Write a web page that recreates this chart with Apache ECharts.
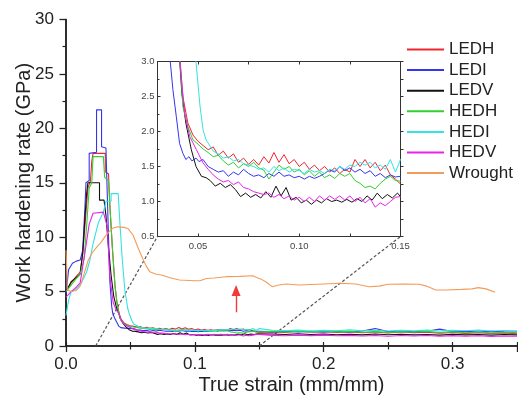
<!DOCTYPE html>
<html>
<head>
<meta charset="utf-8">
<script src="https://cdn.jsdelivr.net/npm/echarts@6/dist/echarts.min.js"></script>
<style>
html,body{margin:0;padding:0;background:#fff;}
#chart{width:518px;height:397px;}
</style>
</head>
<body>
<div id="chart"></div>
<script>
// series names (legend order)
var names = ['LEDH', 'LEDI', 'LEDV', 'HEDH', 'HEDI', 'HEDV', 'Wrought'];
var colors = ['#f0262e', '#3535ee', '#111111', '#2fd12f', '#33e3e3', '#ea22ea', '#f39c5a'];

// [true strain, work hardening rate GPa]
var LEDH = [[0,5.0],[0.004,5.8],[0.008,6.4],[0.011,6.8],[0.013,8.5],[0.015,11.5],[0.017,14.5],[0.019,15.2],[0.02,17.0],[0.021,17.7],[0.0305,17.7],[0.0305,16.0],[0.033,15.8],[0.034,13],[0.036,9],[0.038,5.6],[0.0395,4.0],[0.0412,3.0],
  [0.0425,2.5],[0.045,2.12],[0.0475,1.95],[0.05,1.86],[0.0525,1.8],[0.055,1.74],[0.0575,1.78],[0.06,1.66],[0.0625,1.72],[0.065,1.62],[0.0675,1.68],[0.07,1.56],[0.0725,1.62],[0.075,1.53],[0.0775,1.6],[0.08,1.52],[0.0825,1.64],[0.085,1.55],[0.0875,1.7],[0.09,1.56],[0.0925,1.67],[0.095,1.54],[0.0975,1.6],[0.1,1.5],[0.1025,1.56],[0.105,1.46],[0.1075,1.52],[0.11,1.44],[0.1125,1.5],[0.115,1.42],[0.1175,1.48],[0.12,1.4],[0.1225,1.46],[0.125,1.42],[0.1275,1.6],[0.13,1.5],[0.1325,1.6],[0.135,1.48],[0.1375,1.56],[0.14,1.44],[0.1425,1.52],[0.145,1.38],[0.1475,1.32],[0.15,1.25],
  [0.16,1.3],[0.17,1.25],[0.18,1.35],[0.19,1.28],[0.2,1.32],[0.21,1.25],[0.22,1.3],[0.23,1.22],[0.24,1.28],[0.25,1.2],[0.26,1.3],[0.27,1.22],[0.28,1.26],[0.29,1.18],[0.3,1.24],[0.31,1.16],[0.32,1.22],[0.33,1.15],[0.34,1.2],[0.35,1.12]];

var LEDI = [[0,4.8],[0.002,7.0],[0.005,7.6],[0.008,7.8],[0.011,7.9],[0.013,8.8],[0.0147,12.8],[0.0155,15.0],[0.018,15.2],[0.018,17.7],[0.0237,17.8],[0.0237,21.7],[0.0276,21.7],[0.0276,18.3],[0.031,18.2],[0.0325,12],[0.034,6],[0.0355,3.6],[0.0363,3.0],
  [0.0376,2.6],[0.0393,2.21],[0.0409,1.83],[0.0425,1.69],[0.044,1.6],[0.0455,1.64],[0.047,1.58],[0.049,1.62],[0.0505,1.57],[0.0525,1.6],[0.055,1.5],[0.0575,1.46],[0.06,1.42],[0.0625,1.44],[0.065,1.36],[0.0675,1.42],[0.07,1.38],[0.0725,1.46],[0.075,1.4],[0.0775,1.36],[0.08,1.38],[0.0825,1.34],[0.085,1.4],[0.0875,1.36],[0.09,1.42],[0.0925,1.36],[0.095,1.38],[0.0975,1.34],[0.1,1.36],[0.1025,1.32],[0.105,1.36],[0.1075,1.33],[0.11,1.36],[0.1125,1.4],[0.115,1.45],[0.1175,1.42],[0.12,1.5],[0.1225,1.44],[0.125,1.48],[0.1275,1.42],[0.13,1.46],[0.1325,1.4],[0.135,1.44],[0.1375,1.36],[0.14,1.4],[0.1425,1.34],[0.145,1.38],[0.1475,1.35],[0.15,1.36],
  [0.16,1.3],[0.17,1.36],[0.18,1.28],[0.19,1.34],[0.2,1.3],[0.21,1.36],[0.22,1.3],[0.23,1.38],[0.24,1.6],[0.25,1.32],[0.26,1.38],[0.27,1.3],[0.28,1.36],[0.29,1.55],[0.3,1.32],[0.31,1.36],[0.32,1.28],[0.33,1.34],[0.34,1.3],[0.35,1.28]];

var LEDV = [[0,5.0],[0.004,5.9],[0.008,6.3],[0.011,6.6],[0.013,8.6],[0.0148,12],[0.016,14.0],[0.017,15.0],[0.026,15.0],[0.026,13.4],[0.0295,13.4],[0.031,12],[0.033,9],[0.035,6.5],[0.037,4.6],[0.039,3.6],[0.041,3.0],
  [0.042,2.55],[0.044,2.12],[0.0467,1.74],[0.049,1.5],[0.0517,1.36],[0.054,1.34],[0.056,1.3],[0.0585,1.22],[0.061,1.26],[0.0635,1.2],[0.066,1.24],[0.0685,1.17],[0.071,1.07],[0.0735,1.12],[0.076,1.06],[0.0785,1.1],[0.081,1.05],[0.0835,1.14],[0.086,1.06],[0.0885,1.22],[0.091,1.08],[0.0935,1.2],[0.096,1.02],[0.0985,1.06],[0.101,0.98],[0.1035,1.02],[0.106,0.96],[0.1085,1.02],[0.111,0.98],[0.1135,1.04],[0.116,1.0],[0.1185,1.02],[0.121,0.99],[0.1235,1.03],[0.126,0.99],[0.1285,1.04],[0.131,1.0],[0.1335,1.08],[0.136,1.02],[0.1385,1.12],[0.141,1.04],[0.1435,1.1],[0.146,1.05],[0.1485,1.12],[0.15,1.07],
  [0.16,1.1],[0.17,1.05],[0.18,1.12],[0.19,1.06],[0.2,1.1],[0.21,1.04],[0.22,1.08],[0.23,1.02],[0.24,1.1],[0.25,1.04],[0.26,1.08],[0.27,1.02],[0.28,1.06],[0.29,1.0],[0.3,1.08],[0.31,1.02],[0.32,1.06],[0.33,1.0],[0.34,1.05],[0.35,1.02]];

var HEDH = [[0,5.0],[0.004,5.6],[0.008,6.2],[0.011,6.6],[0.014,8.0],[0.016,11],[0.018,14.5],[0.02,15.0],[0.021,17.4],[0.029,17.4],[0.03,15.5],[0.033,15.2],[0.034,13],[0.036,9],[0.038,5.5],[0.04,3.6],[0.0412,3.0],
  [0.0425,2.36],[0.045,2.07],[0.0475,1.88],[0.05,1.82],[0.0525,1.75],[0.055,1.7],[0.0575,1.64],[0.06,1.66],[0.0625,1.58],[0.065,1.52],[0.0675,1.56],[0.07,1.48],[0.0725,1.54],[0.075,1.5],[0.0775,1.56],[0.08,1.48],[0.0825,1.45],[0.085,1.32],[0.0875,1.42],[0.09,1.52],[0.0925,1.46],[0.095,1.5],[0.0975,1.42],[0.1,1.46],[0.1025,1.38],[0.105,1.44],[0.1075,1.36],[0.11,1.42],[0.1125,1.34],[0.115,1.38],[0.1175,1.33],[0.12,1.4],[0.1225,1.36],[0.125,1.4],[0.1275,1.3],[0.13,1.26],[0.1325,1.2],[0.135,1.22],[0.1375,1.18],[0.14,1.26],[0.1425,1.32],[0.145,1.36],[0.1475,1.3],[0.15,1.29],
  [0.16,1.35],[0.17,1.28],[0.18,1.36],[0.19,1.3],[0.2,1.38],[0.21,1.3],[0.22,1.34],[0.23,1.26],[0.24,1.32],[0.25,1.25],[0.26,1.3],[0.27,1.28],[0.28,1.34],[0.29,1.24],[0.3,1.3],[0.31,1.22],[0.32,1.28],[0.33,1.2],[0.34,1.26],[0.35,1.22]];

var HEDI = [[0,2.8],[0.002,4.2],[0.004,5.0],[0.008,5.2],[0.012,5.8],[0.016,6.8],[0.0186,7.9],[0.021,9.4],[0.025,11.3],[0.029,12.3],[0.031,13.3],[0.035,13.3],[0.035,14.0],[0.0405,14.0],[0.042,11],[0.0435,8.2],[0.0457,5.1],[0.048,3.4],[0.049,3.0],
  [0.051,2.36],[0.0525,2.02],[0.054,1.88],[0.0575,1.72],[0.06,1.68],[0.0625,1.62],[0.065,1.64],[0.0675,1.58],[0.07,1.6],[0.0725,1.54],[0.075,1.52],[0.0775,1.5],[0.08,1.46],[0.0825,1.48],[0.085,1.42],[0.0875,1.5],[0.09,1.44],[0.0925,1.48],[0.095,1.42],[0.0975,1.46],[0.1,1.44],[0.1025,1.4],[0.105,1.46],[0.1075,1.42],[0.11,1.44],[0.1125,1.4],[0.115,1.46],[0.1175,1.44],[0.12,1.5],[0.1225,1.46],[0.125,1.52],[0.1275,1.5],[0.13,1.56],[0.1325,1.52],[0.135,1.56],[0.1375,1.48],[0.14,1.52],[0.1425,1.46],[0.145,1.6],[0.1475,1.42],[0.15,1.6],
  [0.16,1.45],[0.17,1.4],[0.18,1.46],[0.19,1.38],[0.2,1.44],[0.21,1.4],[0.22,1.48],[0.23,1.4],[0.24,1.45],[0.25,1.38],[0.26,1.44],[0.27,1.4],[0.28,1.46],[0.29,1.38],[0.3,1.44],[0.31,1.4],[0.32,1.46],[0.33,1.38],[0.34,1.42],[0.35,1.4]];

var HEDV = [[0,4.5],[0.004,5.0],[0.008,5.4],[0.011,5.8],[0.015,8.8],[0.018,11.2],[0.021,12.2],[0.029,12.3],[0.032,11],[0.034,6.4],[0.0366,4.0],[0.039,3.3],[0.041,3.0],
  [0.0434,2.26],[0.0459,1.93],[0.0492,1.74],[0.0525,1.55],[0.055,1.46],[0.0575,1.38],[0.06,1.32],[0.0625,1.28],[0.065,1.3],[0.0675,1.24],[0.07,1.28],[0.0725,1.2],[0.075,1.18],[0.0775,1.14],[0.08,1.12],[0.0825,1.1],[0.085,1.12],[0.0875,1.06],[0.09,1.1],[0.0925,1.04],[0.095,1.08],[0.0975,1.02],[0.1,1.06],[0.1025,1.0],[0.105,1.06],[0.1075,1.0],[0.11,1.08],[0.1125,1.02],[0.115,1.08],[0.1175,1.03],[0.12,1.08],[0.1225,1.02],[0.125,1.08],[0.1275,1.0],[0.13,1.06],[0.1325,0.98],[0.135,1.04],[0.1375,0.92],[0.14,0.98],[0.1425,0.94],[0.145,1.0],[0.1475,1.06],[0.15,1.07],
  [0.16,0.98],[0.17,0.94],[0.18,1.0],[0.19,0.95],[0.2,1.0],[0.21,0.94],[0.22,0.98],[0.23,0.92],[0.24,0.96],[0.25,0.9],[0.26,0.96],[0.27,0.92],[0.28,0.96],[0.29,0.9],[0.3,0.95],[0.31,0.9],[0.32,0.94],[0.33,0.88],[0.34,0.92],[0.35,0.9]];

var Wrought = [[0,8.8],[0.0005,7.3],[0.001,5.2],[0.004,5.0],[0.008,5.1],[0.011,5.5],[0.014,6.6],[0.017,7.8],[0.02,8.5],[0.024,9.1],[0.027,9.5],[0.03,10.0],[0.0335,10.5],[0.0366,10.85],[0.04,10.95],[0.045,10.9],[0.048,10.8],[0.052,10.2],[0.056,9.0],[0.06,7.9],[0.063,7.2],[0.065,6.83],[0.07,6.6],[0.075,6.5],[0.08,6.3],[0.088,6.07],[0.1,6.0],[0.104,6.0],[0.109,6.2],[0.115,6.25],[0.124,6.37],[0.135,6.4],[0.145,6.46],[0.148,6.3],[0.152,6.1],[0.155,5.9],[0.16,5.45],[0.165,5.6],[0.171,5.7],[0.181,5.6],[0.19,5.65],[0.2,5.7],[0.212,5.76],[0.225,5.7],[0.235,5.45],[0.243,5.5],[0.25,5.67],[0.262,5.7],[0.274,5.67],[0.28,5.5],[0.287,5.15],[0.295,5.15],[0.307,5.2],[0.315,5.25],[0.32,5.36],[0.326,5.25],[0.333,4.93]];

var allData = [LEDH, LEDI, LEDV, HEDH, HEDI, HEDV, Wrought];

// axis ranges and ticks
var mainX = [0, 0.35];
var mainY = [0, 30];
var insetX = [0.03, 0.15];
var insetY = [0.5, 3.0];
var insetXLabels = [0.05, 0.10, 0.15];
var insetXTicks = [0.05, 0.075, 0.10, 0.125, 0.15];

// zoom connector start points on main axis, and red arrow (tail, head)
var zoomFrom = [[0.023, 0], [0.15, 0]];
var arrowPts = [[0.132, 3.1], [0.132, 5.1]];

var FONT = 'Liberation Sans, Arial, sans-serif';
var chart = echarts.init(document.getElementById('chart'));

var series = [];
allData.forEach(function (d, i) {
    series.push({
        name: names[i], type: 'line', data: d,
        xAxisIndex: 0, yAxisIndex: 0,
        symbol: 'none', showSymbol: false, silent: true,
        lineStyle: { color: colors[i], width: 1.1 },
        itemStyle: { color: colors[i] },
        z: 3
    });
});
// inset copies (the wrought curve lies above the inset range)
allData.slice(0, 6).forEach(function (d, i) {
    series.push({
        name: names[i], type: 'line', data: d,
        xAxisIndex: 2, yAxisIndex: 2,
        symbol: 'none', showSymbol: false, silent: true, clip: true,
        lineStyle: { color: colors[i], width: 1 },
        itemStyle: { color: colors[i] },
        z: 3
    });
});
// red arrow on the wrought curve
series[6].markLine = {
    silent: true, animation: false,
    symbol: ['none', 'triangle'], symbolSize: [9, 11],
    label: { show: false },
    lineStyle: { color: '#f23a3a', type: 'solid', width: 1.4 },
    data: [[{ coord: arrowPts[0] }, { coord: arrowPts[1] }]]
};

var axisLine = { lineStyle: { color: '#222', width: 1.5 } };
var option = {
    animation: false,
    backgroundColor: '#fff',
    grid: [
        { left: 66, top: 19.5, right: 1, bottom: 51, outerBoundsMode: 'none' },
        { left: 157.5, top: 61.5, width: 243, height: 175, outerBoundsMode: 'none' }
    ],
    legend: {
        data: names,
        orient: 'vertical',
        left: 407, top: 41, padding: 0,
        icon: 'rect',
        itemWidth: 37, itemHeight: 2, itemGap: 3.6,
        textStyle: { fontFamily: FONT, fontSize: 17, color: '#222', lineHeight: 17 },
        selectedMode: false
    },
    xAxis: [
        {
            type: 'value', gridIndex: 0, min: mainX[0], max: mainX[1], interval: 0.1,
            name: 'True strain (mm/mm)', nameLocation: 'middle', nameGap: 29, nameMoveOverlap: false,
            nameTextStyle: { fontFamily: FONT, fontSize: 20, color: '#222' },
            axisLine: axisLine,
            axisTick: { length: 6, lineStyle: { color: '#222', width: 1.3 } },
            minorTick: { show: true, splitNumber: 2, length: 3.5, lineStyle: { color: '#222', width: 1.2 } },
            axisLabel: { fontFamily: FONT, fontSize: 17, color: '#222', margin: 10, showMaxLabel: false,
                formatter: function (v) { return v.toFixed(1); } },
            splitLine: { show: false }
        },
        {
            type: 'value', gridIndex: 0, position: 'top', min: mainX[0], max: mainX[1], interval: 0.05,
            axisLine: axisLine,
            axisTick: { length: 4, lineStyle: { color: '#222', width: 1.2 } },
            axisLabel: { show: false }, splitLine: { show: false }
        },
        {
            type: 'value', gridIndex: 1, min: insetX[0], max: insetX[1],
            axisLine: { lineStyle: { color: '#333', width: 1 } },
            axisTick: { inside: true, length: 3, customValues: insetXTicks, lineStyle: { color: '#333' } },
            axisLabel: { fontFamily: FONT, fontSize: 9.5, color: '#444', margin: 5, customValues: insetXLabels,
                formatter: function (v) { return v.toFixed(2); } },
            splitLine: { show: false }
        },
        {
            type: 'value', gridIndex: 1, position: 'top', min: insetX[0], max: insetX[1],
            axisLine: { lineStyle: { color: '#333', width: 1 } },
            axisTick: { inside: true, length: 3, customValues: insetXTicks, lineStyle: { color: '#333' } },
            axisLabel: { show: false }, splitLine: { show: false }
        }
    ],
    yAxis: [
        {
            type: 'value', gridIndex: 0, min: mainY[0], max: mainY[1], interval: 5,
            name: 'Work hardening rate (GPa)', nameLocation: 'middle', nameGap: 32, nameMoveOverlap: false,
            nameTextStyle: { fontFamily: FONT, fontSize: 20, color: '#222' },
            axisLine: axisLine,
            axisTick: { length: 6.5, lineStyle: { color: '#222', width: 1.3 } },
            minorTick: { show: true, splitNumber: 2, length: 3.5, lineStyle: { color: '#222', width: 1.2 } },
            axisLabel: { fontFamily: FONT, fontSize: 17, color: '#222', margin: 12 },
            splitLine: { show: false }
        },
        {
            type: 'value', gridIndex: 0, position: 'right', min: mainY[0], max: mainY[1], interval: 5,
            axisLine: axisLine, axisTick: { show: false },
            axisLabel: { show: false }, splitLine: { show: false }
        },
        {
            type: 'value', gridIndex: 1, min: insetY[0], max: insetY[1], interval: 0.5,
            axisLine: { lineStyle: { color: '#333', width: 1 } },
            axisTick: { inside: true, length: 3, lineStyle: { color: '#333' } },
            minorTick: { show: true, splitNumber: 2, length: 2, lineStyle: { color: '#333' } },
            axisLabel: { fontFamily: FONT, fontSize: 9.5, color: '#444', margin: 3,
                formatter: function (v) { return v.toFixed(1); } },
            splitLine: { show: false }
        },
        {
            type: 'value', gridIndex: 1, position: 'right', min: insetY[0], max: insetY[1], interval: 0.25,
            axisLine: { lineStyle: { color: '#333', width: 1 } },
            axisTick: { length: 3, lineStyle: { color: '#333' } },
            axisLabel: { show: false }, splitLine: { show: false }
        }
    ],
    series: series
};
chart.setOption(option);

// dashed zoom connectors: main axis points -> inset bottom corners
var c0 = chart.convertToPixel({ gridIndex: 1 }, [insetX[0], insetY[0]]);
var c1 = chart.convertToPixel({ gridIndex: 1 }, [insetX[1], insetY[0]]);
var f0 = chart.convertToPixel({ gridIndex: 0 }, zoomFrom[0]);
var f1 = chart.convertToPixel({ gridIndex: 0 }, zoomFrom[1]);
var dash = { stroke: '#555', lineWidth: 1.2, lineDash: [3, 2] };
chart.setOption({
    graphic: [
        { type: 'line', z: 2, silent: true, shape: { x1: f0[0], y1: f0[1], x2: c0[0], y2: c0[1] }, style: dash },
        { type: 'line', z: 2, silent: true, shape: { x1: f1[0], y1: f1[1], x2: c1[0], y2: c1[1] }, style: dash }
    ]
});
</script>
</body>
</html>
